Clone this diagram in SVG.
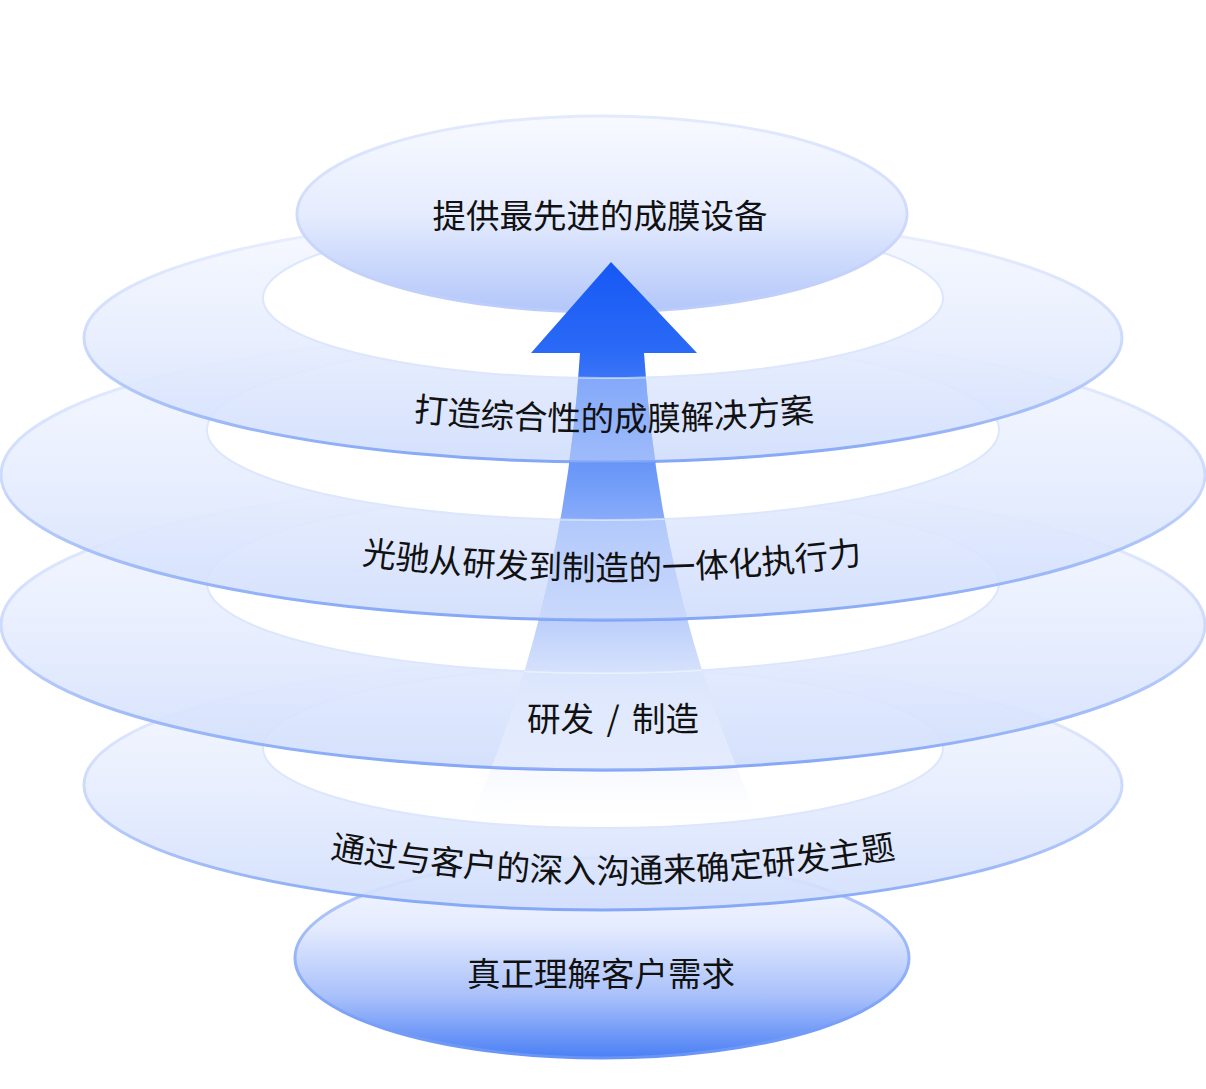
<svg xmlns="http://www.w3.org/2000/svg" xmlns:xlink="http://www.w3.org/1999/xlink" width="1206" height="1089" viewBox="0 0 1206 1089">
<style>
.ring{fill:url(#ringFill);stroke:url(#ringStroke);stroke-width:3;fill-opacity:0.9}
.hole{fill:#ffffff;stroke:#dce6fd;stroke-width:2}
.lbl{font-family:"Noto Sans CJK SC","Noto Sans",sans-serif;font-size:33.5px;fill:#111111;text-anchor:middle}
.edge{fill:none;stroke:#7fa2f6;stroke-width:3;opacity:0.7}
.hedge{fill:none;stroke:#ffffff;stroke-width:2;opacity:0.5}
.band{fill:#ffffff;opacity:0.38}
</style>
<defs>
<linearGradient id="ringFill" x1="0" y1="0" x2="0" y2="1">
<stop offset="0" stop-color="#f7f9ff"/>
<stop offset="0.5" stop-color="#e6edfe"/>
<stop offset="1" stop-color="#d0ddfc"/>
</linearGradient>
<linearGradient id="ringStroke" x1="0" y1="0" x2="0" y2="1">
<stop offset="0" stop-color="#eef2fe"/>
<stop offset="0.55" stop-color="#c9d8fb"/>
<stop offset="1" stop-color="#84a7f6"/>
</linearGradient>
<linearGradient id="topFill" x1="0" y1="0" x2="0" y2="1">
<stop offset="0" stop-color="#f8faff"/>
<stop offset="0.5" stop-color="#e5ecfe"/>
<stop offset="1" stop-color="#b2c6fa"/>
</linearGradient>
<linearGradient id="topStroke" x1="0" y1="0" x2="0" y2="1">
<stop offset="0" stop-color="#e3eafd"/>
<stop offset="1" stop-color="#bcccfa"/>
</linearGradient>
<linearGradient id="botFill" x1="0" y1="0" x2="0" y2="1">
<stop offset="0" stop-color="#f9fbff"/>
<stop offset="0.35" stop-color="#e4ebfe"/>
<stop offset="0.7" stop-color="#a7bffa"/>
<stop offset="1" stop-color="#4a7ff5"/>
</linearGradient>
<linearGradient id="botStroke" x1="0" y1="0" x2="0" y2="1">
<stop offset="0" stop-color="#c5d4fb"/>
<stop offset="1" stop-color="#6894f6"/>
</linearGradient>
<linearGradient id="arrowFill" gradientUnits="userSpaceOnUse" x1="0" y1="262" x2="0" y2="820">
<stop offset="0" stop-color="#1658f5" stop-opacity="1"/>
<stop offset="0.16" stop-color="#2b6af6" stop-opacity="1"/>
<stop offset="0.4" stop-color="#5a8cf7" stop-opacity="0.85"/>
<stop offset="0.65" stop-color="#88aaf8" stop-opacity="0.55"/>
<stop offset="0.85" stop-color="#b8ccfa" stop-opacity="0.25"/>
<stop offset="1" stop-color="#dde7fd" stop-opacity="0"/>
</linearGradient>
<clipPath id="arrowClip">
<path d="M611 262 L697 353 L644 353 Q660 600 757 815 L472 815 Q565 600 580 353 L531 353 Z"/>
</clipPath>
<path id="arc2" d="M314 408.7 Q614 453.3 914 408.7"/>
<path id="arc3" d="M262 548.6 Q612 611.4 962 548.6"/>
<path id="arc5" d="M233 837.9 Q613 928.1 993 837.9"/>
</defs>

<g id="node-need">
<ellipse cx="602" cy="958" rx="307" ry="100" fill="url(#botFill)" stroke="url(#botStroke)" stroke-width="3"/>
</g>
<g id="node-communication">
<ellipse class="ring" cx="603" cy="785" rx="519" ry="125"/>
<ellipse class="hole" cx="603" cy="748" rx="340" ry="80"/>
</g>
<g id="node-rd-manufacturing">
<ellipse class="ring" cx="603" cy="625" rx="602" ry="145"/>
<ellipse class="hole" cx="603" cy="583" rx="396" ry="90"/>
</g>
<g id="node-integration">
<ellipse class="ring" cx="603" cy="475" rx="602" ry="145"/>
<ellipse class="hole" cx="603" cy="430" rx="396" ry="90"/>
</g>
<g id="node-solution">
<ellipse class="ring" cx="603" cy="338" rx="519" ry="124"/>
<ellipse class="hole" cx="603" cy="298" rx="340" ry="80"/>
</g>
<g id="node-equipment">
<ellipse cx="602" cy="214" rx="305" ry="98" fill="url(#topFill)" stroke="url(#topStroke)" stroke-width="3"/>
</g>

<g id="connectors">
<path d="M611 262 L697 353 L644 353 Q660 600 757 815 L472 815 Q565 600 580 353 L531 353 Z" fill="url(#arrowFill)"/>
<g clip-path="url(#arrowClip)">
<path class="band" d="M84 338 A519 124 0 0 0 1122 338 L943 298 A340 80 0 0 1 263 298 Z"/>
<path class="band" d="M1 475 A602 145 0 0 0 1205 475 L999 430 A396 90 0 0 1 207 430 Z"/>
<path class="band" d="M1 625 A602 145 0 0 0 1205 625 L999 583 A396 90 0 0 1 207 583 Z"/>
<path class="hedge" d="M263 298 A340 80 0 0 0 943 298"/>
<path class="hedge" d="M207 430 A396 90 0 0 0 999 430"/>
<path class="hedge" d="M207 583 A396 90 0 0 0 999 583"/>
<path class="edge" d="M84 338 A519 124 0 0 0 1122 338"/>
<path class="edge" d="M1 475 A602 145 0 0 0 1205 475"/>
<path class="edge" d="M1 625 A602 145 0 0 0 1205 625"/>
</g>
</g>

<g id="label-equipment"><text class="lbl" x="600" y="228">提供最先进的成膜设备</text></g>
<g id="label-solution"><text class="lbl"><textPath href="#arc2" xlink:href="#arc2" startOffset="50%">打造综合性的成膜解决方案</textPath></text></g>
<g id="label-integration"><text class="lbl"><textPath href="#arc3" xlink:href="#arc3" startOffset="50%">光驰从研发到制造的一体化执行力</textPath></text></g>
<g id="label-rd-manufacturing"><text class="lbl" x="613" y="731" word-spacing="5">研发 / 制造</text></g>
<g id="label-communication"><text class="lbl"><textPath href="#arc5" xlink:href="#arc5" startOffset="50%">通过与客户的深入沟通来确定研发主题</textPath></text></g>
<g id="label-need"><text class="lbl" x="601" y="986">真正理解客户需求</text></g>
</svg>
